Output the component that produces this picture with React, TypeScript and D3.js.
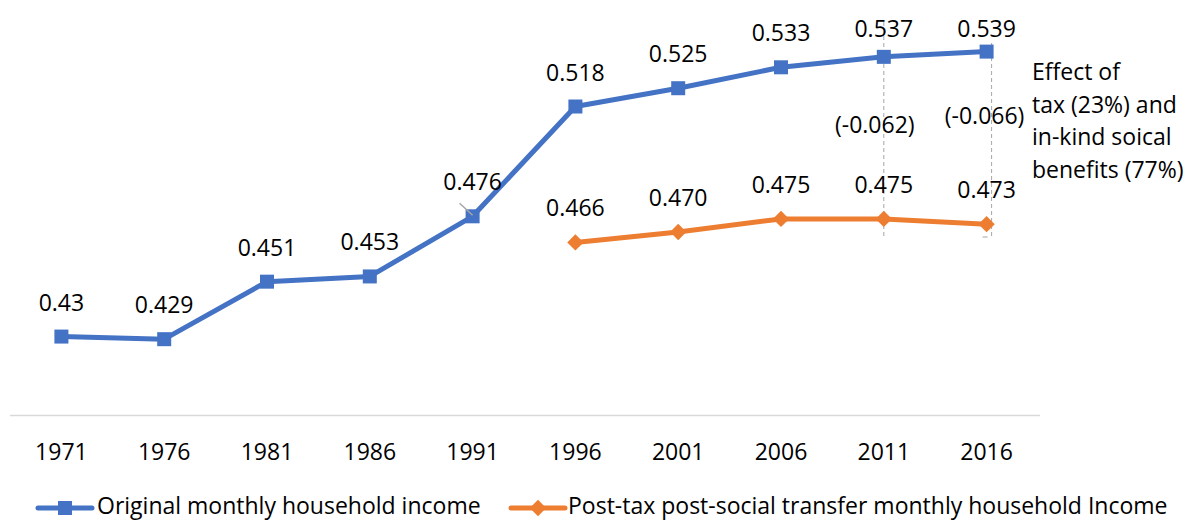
import React, { useRef, useEffect } from "react";
import * as d3 from "d3";

const years = ["1971", "1976", "1981", "1986", "1991", "1996", "2001", "2006", "2011", "2016"];
const originalIncome = [0.43, 0.429, 0.451, 0.453, 0.476, 0.518, 0.525, 0.533, 0.537, 0.539];
const originalLabels = ["0.43", "0.429", "0.451", "0.453", "0.476", "0.518", "0.525", "0.533", "0.537", "0.539"];
const postTaxYears = ["1996", "2001", "2006", "2011", "2016"];
const postTaxIncome = [0.466, 0.47, 0.475, 0.475, 0.473];
const postTaxLabels = ["0.466", "0.470", "0.475", "0.475", "0.473"];
const effectYears = ["2011", "2016"];
const effectLabels = ["(-0.062)", "(-0.066)"];
const noteLines = ["Effect of", "tax (23%) and", "in-kind soical", "benefits (77%)"];
const seriesNames = ["Original monthly household income", "Post-tax post-social transfer monthly household Income"];

const BLUE = "#4472C4";
const ORANGE = "#ED7D31";
const FONT = "'Open Sans', sans-serif";

const App = () => {
  const svgRef = useRef<SVGSVGElement>(null);

  useEffect(() => {
    const svg = d3.select(svgRef.current);
    svg.selectAll("*").remove();

    const x = d3.scalePoint<string>().domain(years).range([10, 1038]).padding(0.5);
    const y = d3.scaleLinear().domain([0.4, 0.54]).range([415, 49]);

    // x axis line + year labels
    svg.append("line")
      .attr("x1", 10).attr("x2", 1040)
      .attr("y1", 415.5).attr("y2", 415.5)
      .attr("stroke", "#d9d9d9").attr("stroke-width", 1.5);

    svg.selectAll(".year")
      .data(years)
      .join("text")
      .attr("class", "year")
      .attr("x", d => x(d)!)
      .attr("y", 460)
      .attr("text-anchor", "middle")
      .text(d => d);

    // dashed guides for the effect annotation
    const guideTop = [22, 43];
    effectYears.forEach((yr, i) => {
      const gx = x(yr)! + (i === 1 ? 5 : 0);
      svg.append("line")
        .attr("x1", gx).attr("x2", gx)
        .attr("y1", guideTop[i]).attr("y2", 237)
        .attr("stroke", "#a6a6a6").attr("stroke-width", 1)
        .attr("stroke-dasharray", "4,3");
    });
    svg.append("line")
      .attr("x1", x("2016")! - 4).attr("x2", x("2016")! + 1)
      .attr("y1", 237).attr("y2", 237)
      .attr("stroke", "#a6a6a6").attr("stroke-width", 1);

    const line = d3.line<[string, number]>()
      .x(d => x(d[0])!)
      .y(d => y(d[1]));

    const orig: [string, number][] = years.map((yr, i) => [yr, originalIncome[i]]);
    const post: [string, number][] = postTaxYears.map((yr, i) => [yr, postTaxIncome[i]]);

    svg.append("path")
      .attr("d", line(orig)!)
      .attr("fill", "none")
      .attr("stroke", BLUE)
      .attr("stroke-width", 5)
      .attr("stroke-linejoin", "round")
      .attr("stroke-linecap", "round");

    svg.append("path")
      .attr("d", line(post)!)
      .attr("fill", "none")
      .attr("stroke", ORANGE)
      .attr("stroke-width", 5)
      .attr("stroke-linejoin", "round")
      .attr("stroke-linecap", "round");

    svg.selectAll(".sq")
      .data(orig)
      .join("rect")
      .attr("class", "sq")
      .attr("x", d => x(d[0])! - 7)
      .attr("y", d => y(d[1]) - 7)
      .attr("width", 14).attr("height", 14)
      .attr("fill", BLUE);

    const diamond = d3.symbol().type(d3.symbolDiamond2).size(170);
    svg.selectAll(".dm")
      .data(post)
      .join("path")
      .attr("class", "dm")
      .attr("transform", d => `translate(${x(d[0])},${y(d[1])})`)
      .attr("d", diamond()!)
      .attr("fill", ORANGE);

    // leader line near 0.476
    const p91 = y(0.476);
    svg.append("line")
      .attr("x1", x("1991")! - 13).attr("y1", p91 - 13)
      .attr("x2", x("1991")!).attr("y2", p91 - 1)
      .attr("stroke", "#a6a6a6").attr("stroke-width", 1.5);

    // data labels
    svg.selectAll(".olab")
      .data(orig)
      .join("text")
      .attr("class", "olab")
      .attr("x", d => x(d[0])!)
      .attr("y", d => Math.max(y(d[1]) - 26, 37))
      .attr("text-anchor", "middle")
      .text((d, i) => originalLabels[i]);

    svg.selectAll(".plab")
      .data(post)
      .join("text")
      .attr("class", "plab")
      .attr("x", d => x(d[0])!)
      .attr("y", d => y(d[1]) - 26)
      .attr("text-anchor", "middle")
      .text((d, i) => postTaxLabels[i]);

    // effect labels
    const effectY = [133, 124];
    const effectDx = [-9, -2];
    effectYears.forEach((yr, i) => {
      svg.append("text")
        .attr("x", x(yr)! + effectDx[i])
        .attr("y", effectY[i])
        .attr("text-anchor", "middle")
        .text(effectLabels[i]);
    });

    svg.append("text")
      .attr("x", 1032)
      .attr("y", 80)
      .selectAll("tspan")
      .data(noteLines)
      .join("tspan")
      .attr("x", 1032)
      .attr("dy", (d, i) => (i === 0 ? 0 : 32.5))
      .text(d => d);

    // legend
    const legend = [
      { x0: 38, tx: 97, color: BLUE, shape: "square" },
      { x0: 511, tx: 568, color: ORANGE, shape: "diamond" },
    ];
    legend.forEach((l, i) => {
      const g = svg.append("g");
      g.append("line")
        .attr("x1", l.x0).attr("x2", l.x0 + 54)
        .attr("y1", 508).attr("y2", 508)
        .attr("stroke", l.color).attr("stroke-width", 5)
        .attr("stroke-linecap", "round");
      if (l.shape === "square") {
        g.append("rect")
          .attr("x", l.x0 + 27 - 7).attr("y", 501)
          .attr("width", 14).attr("height", 14)
          .attr("fill", l.color);
      } else {
        g.append("path")
          .attr("transform", `translate(${l.x0 + 27},508)`)
          .attr("d", diamond()!)
          .attr("fill", l.color);
      }
      g.append("text")
        .attr("x", l.tx)
        .attr("y", 514)
        .text(seriesNames[i]);
    });

    svg.selectAll("text")
      .attr("font-family", FONT)
      .attr("font-size", 23)
      .attr("fill", "#000");
  }, []);

  return (
    <svg
      ref={svgRef}
      width={1189}
      height={520}
      style={{ position: "absolute", left: 0, top: 0, background: "#fff" }}
    />
  );
};

export default App;
